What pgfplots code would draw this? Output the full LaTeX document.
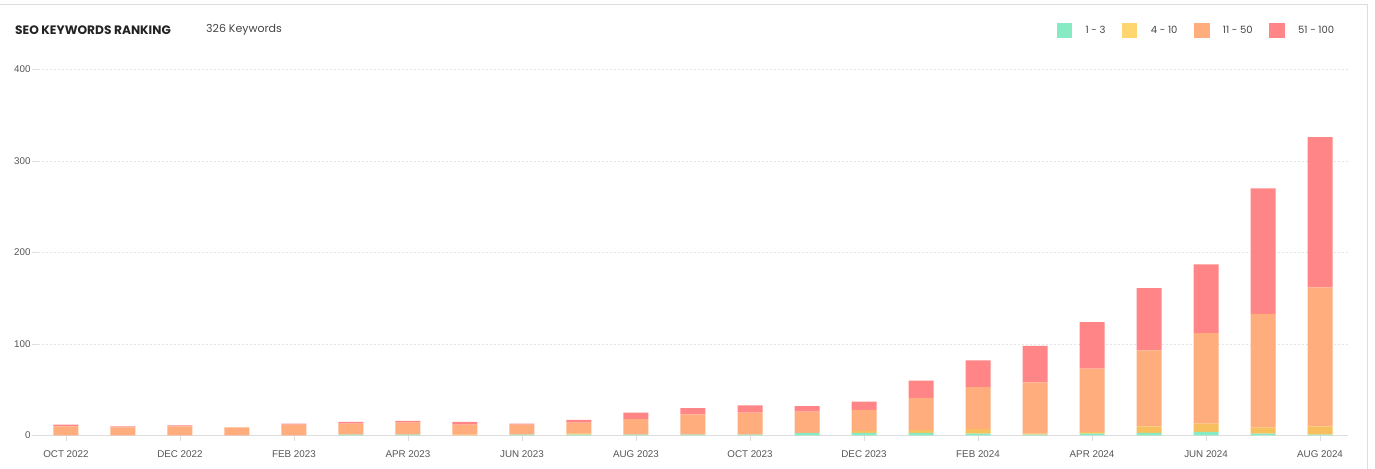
\documentclass[border=0pt]{standalone}
\usepackage{pgfplots}
\pgfplotsset{compat=1.18}
\usepackage{pgfplotstable}
\usepackage{fontspec}
\setmainfont{Liberation Sans}
\newfontfamily\pop{Poppins}

\definecolor{cgreen}{HTML}{86EBC3}
\definecolor{cyellow}{HTML}{F7BF5E}
\definecolor{lyellow}{HTML}{FFD570}
\definecolor{corange}{HTML}{FFAD7D}
\definecolor{cred}{HTML}{FF8587}
\definecolor{gridgray}{HTML}{E4E4E4}
\definecolor{axgray}{HTML}{DDDDDD}
\definecolor{ticktext}{HTML}{555555}
\definecolor{headtext}{HTML}{222222}
\definecolor{subtext}{HTML}{444444}

% month index, 1-3, 4-10, 11-50, 51-100
\pgfplotstableread{
idx top3 top10 top50 top100
0  0 0  10   2
1  0 0   9   1
2  0 0  10   1
3  0 0   9   0
4  0 0  12   1
5  1 0  12   2
6  1 0  13   2
7  0 1  11   3
8  1 0  11   1
9  1 1  12   3
10 1 0  17   7
11 1 0  22   7
12 1 0  24   8
13 3 0  23   6
14 3 2  23   9
15 3 3  35  19
16 2 5  46  29
17 1 1  56  40
18 2 2  69  51
19 3 7  83  68
20 4 9  99  75
21 2 7 124 137
22 1 9 152 164
}\seo

\begin{document}
\begin{tikzpicture}
\path[use as bounding box] (0bp,0bp) rectangle (1375bp,469bp);
% card frame
\draw[color=axgray, line width=1bp] (0bp,464bp) -- (1367bp,464bp) -- (1367bp,0bp);

\node[anchor=base west, inner sep=0pt, font=\pop\bfseries\fontsize{12.2bp}{14bp}\selectfont, text=headtext]
  at (15bp,434.3bp) {SEO KEYWORDS RANKING};
\node[anchor=base west, inner sep=0pt, font=\pop\fontsize{11bp}{13bp}\selectfont, text=subtext]
  at (206bp,436.7bp) {326 Keywords};

\begin{axis}[
    at={(38bp,33.5bp)}, anchor=south west,
    scale only axis, width=1310bp, height=366bp,
    ybar stacked, bar width=25bp,
    xmin=-0.49, xmax=22.49, ymin=0, ymax=400,
    axis x line*=bottom, axis y line*=left,
    x axis line style={draw=axgray, line width=1bp, -},
    y axis line style={draw=none},
    xtick={0,2,...,22},
    xticklabels={OCT 2022,DEC 2022,FEB 2023,APR 2023,JUN 2023,AUG 2023,
                 OCT 2023,DEC 2023,FEB 2024,APR 2024,JUN 2024,AUG 2024},
    ytick={0,100,...,400},
    /pgf/number format/assume math mode=true,
    tick align=outside, major tick length=5.5bp,
    tick style={draw=axgray, line width=0.8bp},
    ymajorgrids, grid style={draw=gridgray, line width=0.8bp, dash pattern=on 2bp off 2bp},
    ticklabel style={font=\fontsize{9.8bp}{11bp}\selectfont, text=ticktext},
    xticklabel style={yshift=-6bp},
    yticklabel style={xshift=1.5bp},
    legend columns=4,
    legend style={at={(0.7776,1.1066)}, anchor=west, draw=none, fill=none,
        inner sep=0pt, outer sep=0pt,
        font=\pop\fontsize{10bp}{12bp}\selectfont, text=subtext,
        column sep=14bp,
        /tikz/every even column/.append style={column sep=16.5bp},
        nodes={inner sep=0pt, outer sep=0pt}},
]
\addplot[fill=cgreen, draw=none, forget plot] table[x=idx, y=top3] {\seo};
\addplot[fill=cyellow, draw=none, forget plot] table[x=idx, y=top10] {\seo};
\addplot[fill=corange, draw=none, forget plot] table[x=idx, y=top50] {\seo};
\addplot[fill=cred, draw=none, forget plot] table[x=idx, y=top100] {\seo};

\addlegendimage{legend image code/.code={\fill[cgreen] (0bp,-7.2bp) rectangle (14.5bp,7.2bp);}}
\addlegendentry{1 - 3}
\addlegendimage{legend image code/.code={\fill[lyellow] (0bp,-7.2bp) rectangle (14.5bp,7.2bp);}}
\addlegendentry{4 - 10}
\addlegendimage{legend image code/.code={\fill[corange] (0bp,-7.2bp) rectangle (14.5bp,7.2bp);}}
\addlegendentry{11 - 50}
\addlegendimage{legend image code/.code={\fill[cred] (0bp,-7.2bp) rectangle (14.5bp,7.2bp);}}
\addlegendentry{51 - 100}
\end{axis}
\end{tikzpicture}
\end{document}
